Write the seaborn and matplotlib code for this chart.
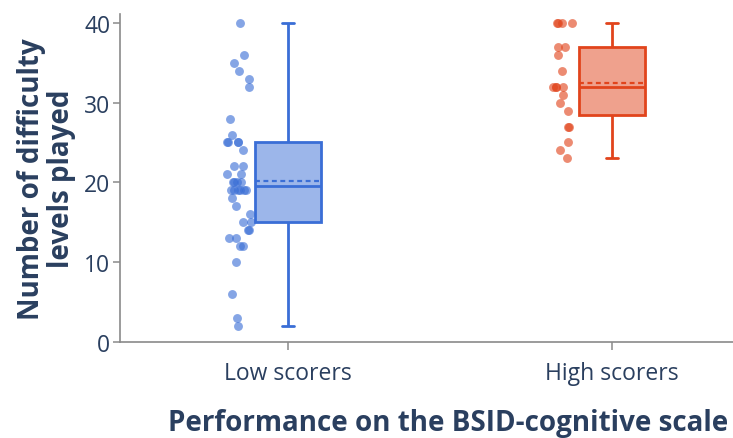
import numpy as np
import pandas as pd
import matplotlib
matplotlib.use("Agg")
import matplotlib.pyplot as plt
import seaborn as sns

# Number of difficulty levels played, per child, by BSID-cognitive group
categories = ["Low scorers", "High scorers"]
low_scorers = [40, 36, 35, 34, 33, 32, 28, 26, 25, 25, 25, 25, 24, 22, 22,
               21, 21, 20, 20, 20, 20, 19, 19, 19, 19, 19, 19, 18, 17, 16,
               15, 15, 14, 14, 13, 13, 12, 12, 10, 6, 3, 2]
high_scorers = [40, 40, 40, 40, 37, 37, 36, 34, 32, 32, 32, 32, 31, 30, 29,
                27, 27, 25, 24, 23]
y_ticks = [0, 10, 20, 30, 40]

group_colors = {"Low scorers": "#3a6ed6", "High scorers": "#e1441c"}
text_color = "#2a3f5f"
axis_color = "#8a8a8a"

df = pd.DataFrame({
    "group": ["Low scorers"] * len(low_scorers) + ["High scorers"] * len(high_scorers),
    "value": low_scorers + high_scorers,
})

sns.set_style("white")
plt.rcParams["font.family"] = ["Open Sans", "DejaVu Sans"]

W, H = 733, 439
fig = plt.figure(figsize=(W / 100, H / 100), dpi=100)
# plot area spans x 120..776 px (right part runs past the canvas), y 15..343 px
ax = fig.add_axes([120 / W, (H - 343) / H, (776 - 120) / W, (343 - 15) / H])

np.random.seed(3)
point_offset = -0.151
for cat in categories:
    c = group_colors[cat]
    sub = df[df["group"] == cat]
    sns.boxplot(data=sub, x="group", y="value", order=categories, color=c,
                linecolor=c, saturation=1, width=0.204, whis=(0, 100),
                linewidth=2, showmeans=True, meanline=True,
                meanprops=dict(color=c, linestyle=(0, (2.2, 1.6)), linewidth=1.6),
                medianprops=dict(color=c, linewidth=2),
                showfliers=False, ax=ax)
    n_before = len(ax.collections)
    sns.stripplot(data=sub, x="group", y="value", order=categories, color=c,
                  size=6.4, alpha=0.62, jitter=0.038, linewidth=0, ax=ax)
    # points sit to the left of their box
    for pts in ax.collections[n_before:]:
        offs = np.asarray(pts.get_offsets())
        if len(offs):
            pts.set_offsets(np.column_stack([offs[:, 0] + point_offset, offs[:, 1]]))

# translucent box fill with solid outline
for patch in ax.patches:
    fc = matplotlib.colors.to_rgb(patch.get_facecolor())
    patch.set_facecolor((*fc, 0.5))

# narrower whisker caps
for line in ax.lines:
    xd = np.asarray(line.get_xdata(), dtype=float)
    yd = np.asarray(line.get_ydata(), dtype=float)
    if len(xd) == 2 and yd[0] == yd[1]:
        width = abs(xd[1] - xd[0])
        if width < 0.15:
            mid = xd.mean()
            line.set_xdata([mid - 0.02, mid + 0.02])

ax.set_xlim(-0.5185, 1.5062)
ax.set_ylim(0, 41.1)
ax.set_yticks(y_ticks)
ax.set_yticklabels([str(t) for t in y_ticks])

for side in ["top", "right"]:
    ax.spines[side].set_visible(False)
for side in ["left", "bottom"]:
    ax.spines[side].set_color(axis_color)
    ax.spines[side].set_linewidth(1.2)

ax.tick_params(axis="y", direction="out", length=5, width=1.1, color=axis_color,
               labelsize=16.5, labelcolor=text_color, pad=2, left=True)
ax.tick_params(axis="x", direction="out", length=6, width=1.1, color=axis_color,
               labelsize=16.5, labelcolor=text_color, pad=8, bottom=True)
ax.grid(False)

ax.set_xlabel("Performance on the BSID-cognitive scale", fontsize=20,
              fontweight="bold", color=text_color, labelpad=16)
ax.set_ylabel("Number of difficulty\nlevels played", fontsize=20,
              fontweight="bold", color=text_color, linespacing=1.05)
ax.yaxis.set_label_coords(-0.067, 0.5)

fig.savefig("out.png", dpi=100)
